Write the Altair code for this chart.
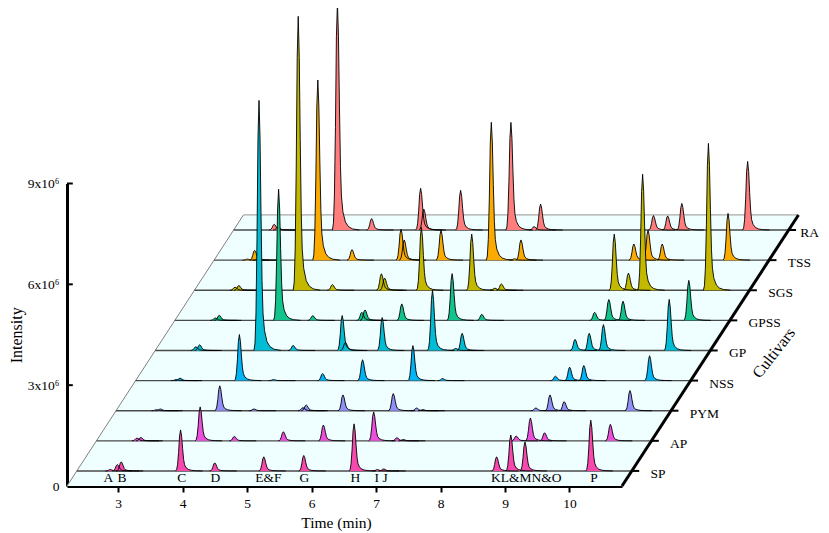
import altair as alt
import pandas as pd

# retention times (min) of the peaks, same for all cultivars
peak_times = [2.88, 2.99, 3.05, 3.97, 4.50, 5.26, 5.31, 5.88, 6.66, 7.02, 7.12, 8.87, 9.09, 9.31, 10.33]

# peak heights, in units of 1e6
heights = {
    "SP":   [0.04, 0.19, 0.27, 1.22, 0.24, 0.42, 0.00, 0.46, 1.40, 0.04, 0.06, 0.42, 1.07, 0.86, 1.51],
    "AP":   [0.00, 0.08, 0.10, 1.01, 0.13, 0.27, 0.00, 0.47, 0.86, 0.09, 0.04, 0.14, 0.68, 0.24, 0.49],
    "PYM":  [0.00, 0.03, 0.05, 0.74, 0.05, 0.09, 0.17, 0.47, 0.51, 0.08, 0.03, 0.08, 0.47, 0.27, 0.60],
    "NSS":  [0.00, 0.03, 0.07, 1.37, 0.03, 0.21, 0.00, 0.62, 1.04, 0.00, 0.06, 0.13, 0.40, 0.45, 0.74],
    "GP":   [0.00, 0.11, 0.17, 7.44, 0.15, 1.04, 0.24, 0.98, 1.79, 0.06, 0.51, 0.33, 0.51, 0.77, 1.52],
    "GPSS": [0.00, 0.07, 0.15, 3.90, 0.14, 0.24, 0.31, 0.49, 1.39, 0.00, 0.18, 0.24, 0.62, 0.57, 1.19],
    "SGS":  [0.00, 0.09, 0.14, 8.15, 0.17, 0.49, 0.36, 1.87, 1.67, 0.06, 0.19, 1.67, 0.51, 3.45, 4.37],
    "TSS":  [0.03, 0.29, 0.06, 5.36, 0.31, 0.92, 0.60, 0.89, 4.10, 0.04, 0.60, 0.48, 0.89, 0.48, 1.39],
    "RA":   [0.00, 0.17, 0.09, 6.76, 0.34, 1.24, 0.62, 1.18, 3.20, 0.10, 0.77, 0.43, 0.42, 0.79, 2.04],
}
colors = {
    "SP": "#f748ad", "AP": "#ec4fdb", "PYM": "#8f8ff7", "NSS": "#00b4f5", "GP": "#00bdd5",
    "GPSS": "#12c48b", "SGS": "#c2b900", "TSS": "#fbab00", "RA": "#ff7d7d",
}
# peak profile: offset from apex (min), fraction of height
profile_dt = [-0.078, -0.062, -0.047, -0.031, -0.016, 0, 0.016, 0.031, 0.047, 0.062, 0.085, 0.124, 0.171, 0.233, 0.34]
profile_fr = [0, 0.03, 0.15, 0.45, 0.85, 1, 0.85, 0.55, 0.28, 0.15, 0.08, 0.035, 0.015, 0.005, 0]

letters = ["A", "B", "C", "D", "E&F", "G", "H", "I", "J", "KL&MN&O", "P"]
letter_times = [2.85, 3.06, 3.99, 4.51, 5.33, 5.89, 6.68, 7.01, 7.14, 9.33, 10.38]

xmin, xmax = 2.209, 10.814
x_shift = 0.304    # min per row
y_shift = 0.896e6  # intensity per row
names = list(heights)
serif = "Liberation Serif"
xscale = alt.Scale(domain=[xmin, xmax], nice=False, zero=False)
yscale = alt.Scale(domain=[0, 9e6], nice=False)

# same axis on every layer, otherwise the merged axis gets dropped
x_axis = alt.Axis(
    values=list(range(3, 11)), grid=False, domainWidth=3, domainColor="black", tickColor="black",
    tickWidth=2, tickSize=6, labelFont=serif, labelFontSize=13.5, labelColor="black", labelPadding=4,
    titleFont=serif, titleFontSize=15.5, titleFontWeight="normal", titleColor="black",
    titleX=269, titleY=36, titleBaseline="middle")
y_axis = alt.Axis(
    values=[0, 3e6, 6e6, 9e6], grid=False, ticks=False, domainWidth=3, domainColor="black",
    labelExpr="datum.value == 0 ? '0' : (datum.value / 1e6) + 'x10⁶'",
    labelFont=serif, labelFontSize=13.5, labelColor="black", labelPadding=8,
    titleFont=serif, titleFontSize=16, titleFontWeight="normal", titleColor="black",
    titleX=-43)


def X(field="t"):
    return alt.X(f"{field}:Q", scale=xscale, title="Time (min)", axis=x_axis)


def Y(field="y"):
    return alt.Y(f"{field}:Q", scale=yscale, title="Intensity", axis=y_axis)


# floor parallelogram
top = 9 * y_shift
floor_df = pd.DataFrame({
    "t": [xmin, xmin + 9 * x_shift, xmax, xmax + 9 * x_shift],
    "y": [0, top, top, top],
    "y0": [0, 0, 0, top],
})
floor = alt.Chart(floor_df).mark_area(color="#effeff", opacity=1).encode(x=X(), y=Y(), y2="y0:Q")


def edge(t, y, color, width):
    return alt.Chart(pd.DataFrame({"t": t, "y": y})).mark_line(color=color, strokeWidth=width).encode(x=X(), y=Y())


left_edge = edge([xmin, xmin + 9 * x_shift], [0, top], "#808080", 1)
back_edge = edge([xmin + 9 * x_shift, xmax + 9 * x_shift], [top, top], "#a8a8a8", 1.2)
right_edge = edge([xmax, xmax + 9 * x_shift], [0, top], "black", 3)

yticks = alt.Chart(pd.DataFrame({"t": [xmin] * 3, "t2": [xmin + 0.09] * 3, "y": [3e6, 6e6, 9e6]})).mark_rule(
    color="black", strokeWidth=2).encode(x=X(), x2="t2:Q", y=Y())

layers = [floor, left_edge, back_edge]
rows = []
# back to front, the front rows cover the back ones
for i, name in reversed(list(enumerate(names))):
    r = i + 0.5
    base_y = r * y_shift
    recs = []
    for k, (t0, h) in enumerate(zip(peak_times, heights[name])):
        if h == 0:
            continue
        for dt, fr in zip(profile_dt, profile_fr):
            # peak_times are read on the SP row, which is half a row in
            recs.append({"peak": k, "t": t0 + i * x_shift + dt, "y": base_y + h * 1e6 * fr, "y0": base_y})
    row_df = pd.DataFrame(recs)
    off = r * x_shift
    base_line = edge([xmin + off, xmax + off], [base_y, base_y], "#4a4a4a", 1.4)
    fill = alt.Chart(row_df).mark_area(color=colors[name], opacity=1).encode(
        x=X(), y=Y(), y2="y0:Q", detail="peak:N")
    outline = alt.Chart(row_df).mark_line(color="black", strokeWidth=0.9).encode(
        x=X(), y=Y(), detail="peak:N")
    layers += [base_line, fill, outline]
    # RA has to stay inside the page's svg, so it sits a bit closer to its tick
    label_gap = 0.18 if name == "RA" else 0.29
    rows.append({"name": name, "t": xmax + off, "t2": xmax + off + 0.115, "tl": xmax + off + label_gap, "y": base_y})

rows_df = pd.DataFrame(rows)
row_ticks = alt.Chart(rows_df).mark_rule(color="black", strokeWidth=2).encode(x=X(), x2="t2:Q", y=Y())
row_labels = alt.Chart(rows_df).mark_text(
    align="left", baseline="middle", dy=3, font=serif, fontSize=13.5, color="black"
).encode(x=X("tl"), y=Y(), text="name:N")

peak_labels = alt.Chart(pd.DataFrame({"t": letter_times, "y": [0.247e6] * len(letters), "txt": letters})).mark_text(
    baseline="middle", font=serif, fontSize=13.5, color="black"
).encode(x=X(), y=Y(), text="txt:N")

cultivars = alt.Chart(pd.DataFrame({"t": [13.17], "y": [3.958e6], "txt": ["Cultivars"]})).mark_text(
    angle=308, baseline="middle", font=serif, fontSize=16, color="black"
).encode(x=X(), y=Y(), text="txt:N")

layers += [right_edge, row_ticks, row_labels, peak_labels, cultivars, yticks]

chart = alt.layer(*layers).properties(
    width=555, height=302.5,
    autosize=alt.AutoSizeParams(type="none"),
    padding={"left": 59, "top": 175.5, "right": 199, "bottom": 46},
    background="white",
).configure_view(stroke=None)

chart.save("out.html", embed_options={"renderer": "svg", "actions": False})
